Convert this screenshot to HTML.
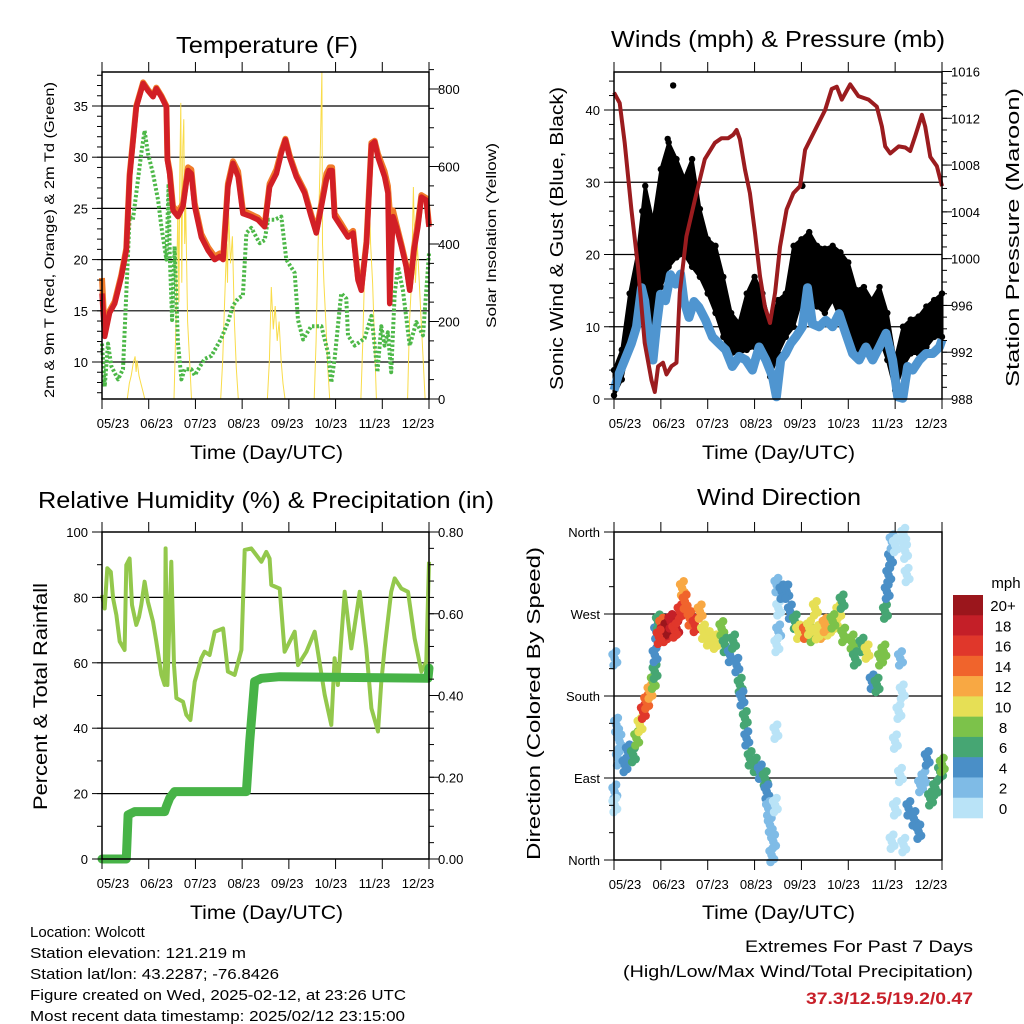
<!DOCTYPE html>
<html><head><meta charset="utf-8"><style>
html,body{margin:0;padding:0;background:#fff;}
svg{display:block;font-family:"Liberation Sans",sans-serif;}
</style></head><body>
<svg id="chart" width="1024" height="1024" viewBox="0 0 1024 1024" xmlns="http://www.w3.org/2000/svg">
<rect x="0" y="0" width="1024" height="1024" fill="#fff"/>
<g id="p1"></g>
<g id="p2"></g>
<g id="p3"></g>
<g id="p4"></g>
<g id="txt">
<text x="176" y="53" font-size="23" textLength="182" lengthAdjust="spacingAndGlyphs">Temperature (F)</text>
<text x="611" y="47" font-size="23" textLength="334" lengthAdjust="spacingAndGlyphs">Winds (mph) &amp; Pressure (mb)</text>
<text x="38" y="508" font-size="23" textLength="456" lengthAdjust="spacingAndGlyphs">Relative Humidity (%) &amp; Precipitation (in)</text>
<text x="697" y="505" font-size="23" textLength="164" lengthAdjust="spacingAndGlyphs">Wind Direction</text>
<text x="190" y="459" font-size="19" textLength="153" lengthAdjust="spacingAndGlyphs">Time (Day/UTC)</text>
<text x="702" y="459" font-size="19" textLength="153" lengthAdjust="spacingAndGlyphs">Time (Day/UTC)</text>
<text x="190" y="919" font-size="19" textLength="153" lengthAdjust="spacingAndGlyphs">Time (Day/UTC)</text>
<text x="702" y="919" font-size="19" textLength="153" lengthAdjust="spacingAndGlyphs">Time (Day/UTC)</text>
<text transform="translate(54,398) rotate(-90)" font-size="14" textLength="316" lengthAdjust="spacingAndGlyphs">2m &amp; 9m T (Red, Orange) &amp; 2m Td (Green)</text>
<text transform="translate(496,328) rotate(-90)" font-size="14" textLength="185" lengthAdjust="spacingAndGlyphs">Solar Insolation (Yellow)</text>
<text transform="translate(563,390) rotate(-90)" font-size="18" textLength="303" lengthAdjust="spacingAndGlyphs">Sonic Wind &amp; Gust (Blue, Black)</text>
<text transform="translate(1019,387) rotate(-90)" font-size="18" textLength="299" lengthAdjust="spacingAndGlyphs">Station Pressure (Maroon)</text>
<text transform="translate(47,810) rotate(-90)" font-size="19" textLength="227" lengthAdjust="spacingAndGlyphs">Percent &amp; Total Rainfall</text>
<text transform="translate(540,860) rotate(-90)" font-size="18" textLength="313" lengthAdjust="spacingAndGlyphs">Direction (Colored By Speed)</text>
<text x="30" y="937" font-size="15">Location: Wolcott</text>
<text x="30" y="958" font-size="15" textLength="216" lengthAdjust="spacingAndGlyphs">Station elevation: 121.219 m</text>
<text x="30" y="979" font-size="15" textLength="249" lengthAdjust="spacingAndGlyphs">Station lat/lon: 43.2287; -76.8426</text>
<text x="30" y="1000" font-size="15" textLength="376" lengthAdjust="spacingAndGlyphs">Figure created on Wed, 2025-02-12, at 23:26 UTC</text>
<text x="30" y="1021" font-size="15" textLength="375" lengthAdjust="spacingAndGlyphs">Most recent data timestamp: 2025/02/12 23:15:00</text>
<text x="745" y="952" font-size="17" textLength="228" lengthAdjust="spacingAndGlyphs">Extremes For Past 7 Days</text>
<text x="623" y="977" font-size="17" textLength="350" lengthAdjust="spacingAndGlyphs">(High/Low/Max Wind/Total Precipitation)</text>
<text x="806" y="1004" font-size="17" font-weight="bold" fill="#c8202a" textLength="167" lengthAdjust="spacingAndGlyphs">37.3/12.5/19.2/0.47</text>
</g>
</svg>
<script>
// ---------- shared ----------
const xTickLabels = ["05/23","06/23","07/23","08/23","09/23","10/23","11/23","12/23"];
// ---------- temperature ----------
const tempHours = [0,1.4,3.9,6.5,9.9,12.5,14.2,17.6,21.1,23.6,26.2,27.9,30.5,33.1,33.6,34.8,36.5,39,41.6,44.2,45.9,47.6,51,54.5,57.9,60.5,62.2,64.7,67.3,69.9,72.4,76.7,80.1,83.6,86.1,89.6,92.1,94.2,96.4,99.8,104.1,107.5,110.1,112.7,115.3,117,118.2,119.5,122.9,126.4,129,131.5,133.2,135.9,138.4,140.1,141.8,145.2,146.9,147.8,148.6,149.5,151.2,153.8,156.3,158.1,160.3,162.3,164.1,166.6,168];
const temp2m = [16.7,12.5,14.8,15.7,18.3,20.9,28.1,34.9,37.2,36.5,35.9,36.7,35.9,34.9,29.7,28.4,24.8,24.2,25.2,28.7,28.4,25.2,22.2,20.9,20,20.3,20,27.1,29.4,28.1,24.5,24.2,23.9,23.2,27.1,28.4,30.4,31.7,30,28.1,26.5,24.2,22.6,25.2,27.8,28.7,28.7,24.2,23.2,22.2,22.6,18,17,21.6,31.2,31.5,30,28.1,26.5,15.7,20,24.2,23.2,21.3,19.3,17,20.9,23.2,26.1,25.8,23.2];
const temp9m = [18.2,13,15,15.9,18.5,21.1,28.3,35,37.3,36.6,36,36.8,36,35,29.9,28.6,25.2,24.6,25.5,29,28.8,25.5,22.5,21.2,20.3,20.6,20.3,27.4,29.6,28.6,24.8,24.4,24.1,23.4,27.4,28.8,30.6,31.8,30.2,28.3,26.7,24.4,22.8,25.5,28.4,29,29,24.5,23.5,22.4,22.8,18.2,17.2,21.8,31.4,31.6,30.3,28.6,27.2,24.8,24.6,24.8,23.5,21.5,19.5,17.2,21.2,23.6,26.3,26,23.4];
const dewHours = [0,1.4,3.1,4.8,8.2,10.8,12.5,14.2,15.9,17.6,20.2,21.9,23.6,26.2,28.8,30.5,33.1,34.2,34.8,36,37.3,39,40.8,42.5,45.9,47.6,52.7,56.2,61.3,64.7,67.3,69.9,72.4,74.2,76.7,81,83.6,85.3,88.7,92.1,94.7,99,100.7,103.3,107.5,112.7,116.1,117.8,119.5,122.9,125.5,126.4,129.8,134.9,138.4,140.1,141.5,143.5,145.2,146.9,148.6,150.4,152.1,154.6,158.1,161.5,164.9,168];
const dew2m = [11.8,7.6,11.8,9.6,8.3,9.3,16.7,24.2,23.9,26.5,30.4,32.6,30.4,28.4,25.8,23.2,20,27.4,20.6,14.1,21.3,11.9,8.3,9.3,9.3,8.7,10.3,10.6,12.3,13.9,15.5,16.2,16.5,22.6,23.1,21.6,21.9,23.9,23.9,24.2,20,18.7,14.1,12.2,13.5,13.5,10.9,8,10.3,16.7,16.2,12.6,11.6,12.3,14.5,11.6,9,13.5,11.6,12.9,9,16.7,19.3,17,11.6,13.9,12.6,20.6];
const solarHours = [0,13,14,15,16,17,17.5,18,19,20,21,22,37,38,39,39.5,40,40.5,41,41.5,42,42.5,43,44,45,46,61,62,63,64,64.5,65,66,67,68,69,70,85,86,87,88,89,90,91,92,93,94,109,110,111,112,113,113.3,114,115,116,117,133,134,135,136,137,138,139,140,141,157,158,159,160,161,162,163,164,165,166,168];
const solarVals = [0,0,40,60,90,110,70,100,60,40,20,0,0,200,500,250,600,764,300,650,722,400,500,200,100,0,0,100,250,400,300,488,350,420,200,80,0,0,100,289,180,240,150,200,100,40,0,0,150,400,600,845,400,300,200,80,0,0,150,350,500,591,400,300,150,0,0,200,300,547,300,400,300,200,100,0,0];
const tempTicks = [10,15,20,25,30,35];
const solarTicks = [0,200,400,600,800];
// ---------- winds ----------
const presHours = [0,2.9,5.5,8.9,12.3,15.7,19.2,20.9,22.6,25.1,26.9,29.4,32,33.7,37.1,41.4,46.5,51.7,55.1,58.5,61.1,62.8,64.5,67.1,69.6,72.2,74.8,77.3,79.9,82.5,85,88.4,91.9,95.3,97.9,102.1,108.1,111.5,114.1,116.7,121,125.2,130.4,134.6,137.2,138.9,141.5,145.8,149.2,151.7,154.3,157.7,159.4,162,165.4,168];
const presVals = [1014.2,1013.3,1009.9,1004.2,999.3,992.8,989.6,988.6,990.8,991.1,990.1,990.8,991.1,997.1,1001.9,1005,1008.5,1009.9,1010.3,1010.3,1010.6,1011,1010.2,1007.6,1005.6,1002.2,998.5,995.9,994.5,997.1,1001,1004.2,1005.6,1006.2,1009.3,1010.7,1012.7,1014.5,1014.7,1013.6,1014.9,1013.9,1013.6,1013,1011.3,1009.6,1009,1009.6,1009.5,1009.2,1010.5,1012.3,1011.3,1008.7,1007.9,1006.2];
const windHours = [0,2,5.5,8.9,11.5,14.1,15.7,18.3,20,21.7,23.8,26.4,28.9,31.5,34.1,35.8,38.4,41,43.5,46.9,50.4,53.8,57.2,60.6,64.1,67.5,70.9,74.3,77.8,81.2,83.2,85.4,87.9,90.5,93.1,96.5,99.1,101.6,105,108.5,111.9,115.3,118.8,122.2,125.6,129,132.5,135.9,139.3,142.7,145.3,147.9,150.4,153,156.4,159.8,163.3,166.7,168];
const windVals = [1.2,3.1,5.4,7.7,10,15.4,13.6,7.7,5.4,10,14.5,13.6,17.2,15.9,17.3,13.6,11.3,13.5,12.7,10.9,8.6,7.7,6.8,4.5,5.9,5.4,4,7.2,5.4,3.1,0.3,5.4,6.3,7.7,8.6,10,15.4,10.4,10,10.9,10,11.8,9,6.3,5.4,7.2,5.4,7.2,9.1,5.4,0.3,0.1,4.5,4,5.4,6.3,6.3,7.2,8.2];
const gustHours = [0,4,8,12,16,20,24,28,32,36,40,44,48,52,56,60,64,68,72,76,80,84,88,92,96,100,104,108,112,116,120,124,128,132,136,140,144,148,152,156,160,164,168];
const gustHigh = [4,6.8,14.6,20,29.5,24.5,31.8,35.5,33.2,30.5,33.2,26.3,22.1,21.2,16.9,11.9,10.5,14.6,16.9,14.6,10,13.7,14.6,21.2,22.1,23.1,21.2,20.8,21.2,20.3,18.9,15.1,15.5,13.7,15.5,11.9,5.4,10,11,11.4,12.8,13.7,14.6];
const gustLow = [0.5,2.7,7.7,11,12.3,10,15.5,18.3,19.6,20,18.3,16.9,14.6,11.9,8.6,6.3,6.3,6.8,7.2,6.3,3.1,6.3,8.6,10,13.7,14.6,12.8,11.9,13.7,11,10,6.3,7.2,6.3,8.6,5.4,1.2,4.5,6.3,6.3,7.2,8.6,8.6];
const gustOutlierHours = [30.3,96.5,14.5,27.5];
const gustOutlierVals = [43.4,29.5,26,36];
const windTicks = [0,10,20,30,40];
const presTicks = [988,992,996,1000,1004,1008,1012,1016];
// ---------- humidity ----------
const rhHours = [0,1.4,2.7,4.5,5.7,7.4,9.1,11.6,12.5,14.2,15.4,17.6,19,20.2,21.9,23.6,26.2,27.9,30.5,32.2,32.7,33.6,35.6,37,38.2,41.6,43.3,45.4,47.6,51,52.7,55.3,57.9,62.2,64.7,68.2,71.6,73.3,76.7,81.9,84.4,86.1,87,91.3,93.8,99,100.7,105,109.3,114.4,117.8,119.5,121.2,124.7,128.1,132.4,135.8,138.4,141.8,143.5,145.2,148.6,150.4,153.8,157.2,160.6,164.1,166.6,168];
const rhVals = [80.7,76.6,88.9,87.8,79.7,74.6,66.5,63.9,89.9,91.9,77.7,71.6,74,77.7,84.8,78.7,72.6,66.5,56.3,53.2,95,53.2,90.9,59.3,49.2,48.1,44.1,42.5,54.2,61.4,63.4,62.4,69.5,70.5,57.3,56.3,63.9,94.5,95,90.9,93.9,91.9,83.8,82.7,63.4,69.5,59.3,63.4,69.5,50.2,41,61.4,53.2,81.7,64.4,81.7,64.4,46.1,39,54.2,64.4,81.7,85.8,82.7,81.7,67.5,57.3,60.4,90.9];
const precipHours = [0,12.5,13.4,16.8,32.2,33.2,34.8,37.3,74.2,75.9,78.4,81.9,91.3,167.5,168];
const precipVals = [0,0,0.108,0.116,0.116,0.13,0.149,0.165,0.165,0.287,0.434,0.442,0.446,0.442,0.467];
const rhTicks = [0,20,40,60,80,100];
const precipTicks = [0,0.2,0.4,0.6,0.8];
// ---------- wind direction ----------
const dirHours = [0.3,1.2,2.1,0.3,0.3,2.9,5.5,7.2,9.8,11.5,13.2,14.9,16.6,18.3,20,20.9,20.9,21.7,22.6,24.3,26,28.6,30.3,32,33.7,34.9,36.3,38.8,41.4,44,45.7,48.2,51.7,55.1,56.8,59.4,61.1,62.8,64.5,65.4,67.1,67.9,69.6,72.2,74.8,77.3,78.2,79,79.9,80.7,81.6,82.5,82.8,83.3,84.2,85.9,88.4,90.2,84.2,83.3,92.7,94.4,97.9,101.3,103,106.4,109.8,113.3,115,116.7,117.5,121.8,123.5,126.9,129.5,132.1,134.6,136.4,138.1,138.9,139.8,140.6,141.5,142.3,144,148.3,149.2,150,146.6,147.5,145.8,144,146.6,144,142.3,148.3,150.9,153.5,156,156.9,158.6,160.3,162,164.6,167.1,168,25,27,23,29,31,100,104,108,112];
const dirVals = [221.3,148.2,111.6,75,60.3,129.9,104.3,118.9,115.2,133.5,148.2,162.8,173.8,184.8,195.7,206.7,225,250.6,261.6,258,247,254.3,258,254.3,272.6,298.2,283.5,265.2,258,272.6,250.6,243.3,239.6,254.3,236,225,239.6,214,192.1,177.4,155.5,133.5,111.6,104.3,96.9,89.6,75,56.7,38.4,5.5,20.1,60.3,140.8,301.8,276.2,294.5,294.5,272.6,250.6,236,261.6,250.6,250.6,247,276.2,250.6,254.3,261.6,272.6,283.5,247,239.6,221.3,236,228.7,195.7,192.1,221.3,228.7,272.6,294.5,312.8,331.1,349.4,345.7,356.7,338.4,312.8,221.3,184.8,162.8,129.9,93.3,56.7,20.1,16.4,56.7,45.7,31.1,82.3,89.6,111.6,67.7,78.7,97,104.3,250,255,245,262,252,255,250,258,262];
const dirSpeeds = [2,2,3,2,1,2,4,5,7,8,11,16,15,12,9,7,4,5,7,15,17,19,20,18,16,12,15,15,16,12,11,10,10,8,7,5,6,4,6,5,6,5,7,6,5,6,4,2,3,3,2,1,1,2,1,4,5,4,3,1,7,10,14,9,10,13,10,11,10,7,9,9,7,7,10,5,7,8,8,6,4,5,4,3,1,1,1,1,2,1,1,1,1,1,1,1,4,4,4,3,3,4,6,7,7,8,19,20,17,18,16,11,10,12,9];
const speedLabels = ["0","2","4","6","8","10","12","14","16","18","20+"];
const speedColors = ["#b9e3f7","#7fbbe6","#4a8fc7","#46a673","#7cc24a","#e6df55","#f8a843","#f0642c","#e0372b","#c41f28","#9b161c"];
const dirTicks = [0,90,180,270,360];
const dirTickLabels = ["North","East","South","West","North"];

// ---------- helpers ----------
const NS = "http://www.w3.org/2000/svg";
function mk(parent, tag, attrs){ const e=document.createElementNS(NS,tag); for(const k in attrs) e.setAttribute(k,attrs[k]); parent.appendChild(e); return e; }
function linScale(d0,d1,r0,r1){ return v => r0 + (v-d0)*(r1-r0)/(d1-d0); }
function pathFrom(xs,ys,fx,fy){ return xs.map((h,i)=>(i?"L":"M")+fx(h).toFixed(1)+","+fy(ys[i]).toFixed(1)).join(""); }

function frame(g, box, opts){
  opts.grid.forEach(v=>{
    const y=opts.fy(v);
    const ln=mk(g,"line",{x1:box.x0,x2:box.x1,y1:y,y2:y,stroke:"#000","stroke-width":1.2});
    
    
  });
}
function axes(g, box, opts){
  const r=mk(g,"rect",{x:box.x0,y:box.y0,width:box.x1-box.x0,height:box.y1-box.y0,fill:"none",stroke:"#000","stroke-width":1.5});
  
  
  for(let i=0;i<=7;i++){
    const x=box.x0+i*(box.x1-box.x0)/7;
    mk(g,"line",{x1:x,x2:x,y1:box.y0,y2:box.y0-10,stroke:"#000","stroke-width":1});
    mk(g,"line",{x1:x,x2:x,y1:box.y1,y2:box.y1+10,stroke:"#000","stroke-width":1});
  }
  xTickLabels.forEach((s,i)=>{
    const x=box.x0+11+i*(box.x1-box.x0-22)/7;
    const t=mk(g,"text",{x:x,y:box.y1+29,"font-size":13,"text-anchor":"middle"});
    t.textContent=s;
    
    
  });
  opts.lt.forEach((v,i)=>{
    const y=opts.fy(v);
    mk(g,"line",{x1:box.x0,x2:box.x0-10,y1:y,y2:y,stroke:"#000","stroke-width":1});
    const t=mk(g,"text",{x:box.x0-14,y:y+5,"font-size":13,"text-anchor":"end"});
    t.textContent=opts.ltl?opts.ltl[i]:String(v);
    
    
  });
  if(opts.lminor) opts.lminor.forEach(v=>{const y=opts.fy(v);mk(g,"line",{x1:box.x0,x2:box.x0-5,y1:y,y2:y,stroke:"#000","stroke-width":1});});
  if(opts.rt){
    opts.rt.forEach((v,i)=>{
      const y=opts.fr(v);
      mk(g,"line",{x1:box.x1,x2:box.x1+10,y1:y,y2:y,stroke:"#000","stroke-width":1});
      const t=mk(g,"text",{x:box.x1+9,y:y+5,"font-size":13,"text-anchor":"start"});
      t.textContent=opts.rtl?opts.rtl[i]:String(v);
      
      
    });
    if(opts.rminor) opts.rminor.forEach(v=>{const y=opts.fr(v);mk(g,"line",{x1:box.x1,x2:box.x1+5,y1:y,y2:y,stroke:"#000","stroke-width":1});});
  }
}
function range(a,b,s){const o=[];for(let v=a;v<=b+1e-9;v+=s)o.push(+v.toFixed(4));return o;}

// ---------- panel 1 ----------
(function(){
  const g=document.getElementById("p1");
  const box={x0:102,x1:429,y0:72,y1:399};
  const fx=linScale(0,168,box.x0,box.x1);
  const fy=linScale(10,35,362,106);
  const fr=linScale(0,800,399,89);
  frame(g,box,{grid:tempTicks,fy});
  const s=mk(g,"path",{d:pathFrom(solarHours,solarVals,fx,v=>Math.max(box.y0,fr(v))),fill:"none",stroke:"#f9dc4a","stroke-width":1});
  
  
  const d=mk(g,"path",{d:pathFrom(dewHours,dew2m,fx,fy),fill:"none",stroke:"#4db848","stroke-width":4,"stroke-dasharray":"2.5 2","stroke-linejoin":"round"});
  
  
  const o=mk(g,"path",{d:pathFrom(tempHours,temp9m,fx,fy),fill:"none",stroke:"#f07b2a","stroke-width":6,"stroke-linejoin":"round"});
  
  
  const r=mk(g,"path",{d:pathFrom(tempHours,temp2m,fx,fy),fill:"none",stroke:"#d21f26","stroke-width":5.5,"stroke-linejoin":"round"});
  
  
  axes(g,box,{fy,fr,lt:tempTicks,lminor:range(7,38,1),rt:solarTicks,rminor:range(0,850,50)});
})();

// ---------- panel 2 ----------
(function(){
  const g=document.getElementById("p2");
  const box={x0:614,x1:942,y0:72,y1:399};
  const fx=linScale(0,168,box.x0,box.x1);
  const fy=linScale(0,40,399,110);
  const fr=linScale(988,1016,399,71.5);
  frame(g,box,{grid:[10,20,30,40],fy});
  let dd=pathFrom(gustHours,gustHigh,fx,fy);
  const rh=gustHours.slice().reverse(), rl=gustLow.slice().reverse();
  dd+=rh.map((h,i)=>"L"+fx(h).toFixed(1)+","+fy(rl[i]).toFixed(1)).join("")+"Z";
  const band=mk(g,"path",{d:dd,fill:"#000",stroke:"#000","stroke-width":3,"stroke-linejoin":"round"});
  
  
  gustHours.forEach((h,i)=>{
    [gustHigh[i],gustLow[i]].forEach(v=>{
      const c=mk(g,"circle",{cx:fx(h),cy:fy(v),r:3.2,fill:"#000"});
      
      
    });
  });
  gustOutlierHours.forEach((h,i)=>{
    const c=mk(g,"circle",{cx:fx(h),cy:fy(gustOutlierVals[i]),r:3.2,fill:"#000"});
    
    
  });
  const w=mk(g,"path",{d:pathFrom(windHours,windVals,fx,fy),fill:"none",stroke:"#4f95d0","stroke-width":9,"stroke-linejoin":"round"});
  
  
  const p=mk(g,"path",{d:pathFrom(presHours,presVals,fx,fr),fill:"none",stroke:"#9b1c1f","stroke-width":4,"stroke-linejoin":"round"});
  
  
  axes(g,box,{fy,fr,lt:windTicks,lminor:range(0,44,2),rt:presTicks,rminor:range(988,1016,1)});
})();

// ---------- panel 3 ----------
(function(){
  const g=document.getElementById("p3");
  const box={x0:102,x1:429,y0:532,y1:859};
  const fx=linScale(0,168,box.x0,box.x1);
  const fy=linScale(0,100,859,532);
  const fr=linScale(0,0.8,859,532);
  frame(g,box,{grid:[20,40,60,80],fy});
  const r=mk(g,"path",{d:pathFrom(rhHours,rhVals,fx,fy),fill:"none",stroke:"#93c84c","stroke-width":4,"stroke-linejoin":"round"});
  
  
  const p=mk(g,"path",{d:pathFrom(precipHours,precipVals,fx,fr),fill:"none",stroke:"#47b347","stroke-width":9,"stroke-linejoin":"round","stroke-linecap":"round"});
  
  
  axes(g,box,{fy,fr,lt:rhTicks,lminor:range(0,100,10),rt:precipTicks,rtl:precipTicks.map(v=>v.toFixed(2)),rminor:range(0,0.8,0.04)});
})();

// ---------- panel 4 ----------
(function(){
  const g=document.getElementById("p4");
  const box={x0:614,x1:942,y0:532,y1:860};
  const fx=linScale(0,168,box.x0,box.x1);
  const fy=linScale(0,360,860,532);
  frame(g,box,{grid:[90,180,270],fy});
  const offs=[[0,0],[2.5,4],[-2,-4],[1.5,-7],[-1,7]];
  dirHours.forEach((h,i)=>{
    const bin=Math.min(10,Math.floor(dirSpeeds[i]/2));
    offs.forEach(o=>{
      const c=mk(g,"circle",{cx:fx(h)+o[0],cy:fy(dirVals[i])+o[1],r:4.3,fill:speedColors[bin]});
      
      
    });
  });
  axes(g,box,{fy,lt:dirTicks,ltl:dirTickLabels,lminor:range(0,360,30)});
  const cb=mk(g,"g",{});
  
  
  const bh=(818-595)/speedColors.length;
  speedColors.forEach((col,i)=>{
    const k=speedColors.length-1-i;
    const rr=mk(cb,"rect",{x:953,y:595+i*bh,width:30,height:bh+0.3,fill:speedColors[k]});
    
    
    const t=mk(cb,"text",{x:1003,y:595+i*bh+bh/2+6,"font-size":15,"text-anchor":"middle"});
    t.textContent=speedLabels[k];
    
    
  });
  const u=mk(cb,"text",{x:1006,y:588,"font-size":15,"text-anchor":"middle"});
  u.textContent="mph";
  
  
})();
</script>
</body></html>
